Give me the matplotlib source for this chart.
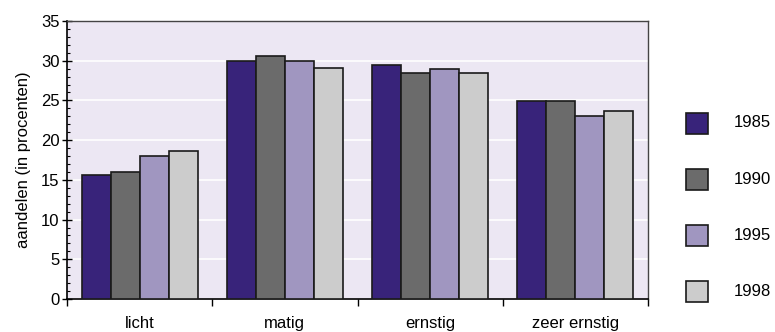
import numpy as np
import matplotlib.pyplot as plt
from matplotlib.ticker import MultipleLocator, FixedLocator, NullFormatter
from matplotlib.patches import Rectangle

categories = ['licht', 'matig', 'ernstig', 'zeer ernstig']
years = ['1985', '1990', '1995', '1998']
v1985 = [15.6, 30.0, 29.5, 24.9]
v1990 = [16.0, 30.6, 28.5, 24.9]
v1995 = [18.0, 30.0, 29.0, 23.0]
v1998 = [18.6, 29.1, 28.5, 23.7]
colors = ['#38237a', '#6b6b6b', '#a096c0', '#cccccc']

plt.rcParams['font.family'] = ['Liberation Sans', 'DejaVu Sans']
fs = 12

fig = plt.figure(figsize=(7.75, 3.32), dpi=100)
ax = fig.add_axes([67/775, 1 - 299/332, 581/775, 278/332])
ax.set_facecolor('#ece7f3')

x = np.arange(len(categories))
w = 0.2
for i, vals in enumerate([v1985, v1990, v1995, v1998]):
    ax.bar(x - 0.3 + i * w, vals, width=w, color=colors[i],
           edgecolor='#1a1a1a', linewidth=1.2, zorder=3)

ax.set_xlim(-0.5, 3.5)
ax.set_ylim(0, 35)
ax.yaxis.set_major_locator(MultipleLocator(5))
ax.yaxis.set_minor_locator(MultipleLocator(1))
ax.grid(axis='y', color='white', linewidth=1.2, zorder=1)

ax.xaxis.set_major_locator(FixedLocator([-0.5, 0.5, 1.5, 2.5, 3.5]))
ax.xaxis.set_major_formatter(NullFormatter())
ax.xaxis.set_minor_locator(FixedLocator(x))
ax.set_xticklabels(categories, minor=True)
ax.tick_params(axis='x', which='minor', length=0, labelsize=fs, pad=12)
ax.tick_params(axis='x', which='major', direction='out', length=5, width=1)
ax.tick_params(axis='y', which='major', direction='inout', length=7, width=1, labelsize=fs, pad=2)
ax.tick_params(axis='y', which='minor', direction='in', length=2.5, width=0.8)

for s in ['left', 'bottom']:
    ax.spines[s].set_color('black')
    ax.spines[s].set_linewidth(1.2)
for s in ['top', 'right']:
    ax.spines[s].set_color('#444444')
    ax.spines[s].set_linewidth(1.0)

ax.set_ylabel('aandelen (in procenten)', fontsize=fs, labelpad=7)

# legend drawn as squares with labels on the right
for i, yr in enumerate(years):
    yc = 123 + i * 56
    fig.patches.append(Rectangle((686/775, 1 - (yc + 10.5)/332), 22/775, 21/332,
                                 transform=fig.transFigure, facecolor=colors[i],
                                 edgecolor='#1a1a1a', linewidth=1.2))
    fig.text(734/775, 1 - yc/332, yr, fontsize=fs, va='center', ha='left')

fig.savefig('out.png', dpi=100)
